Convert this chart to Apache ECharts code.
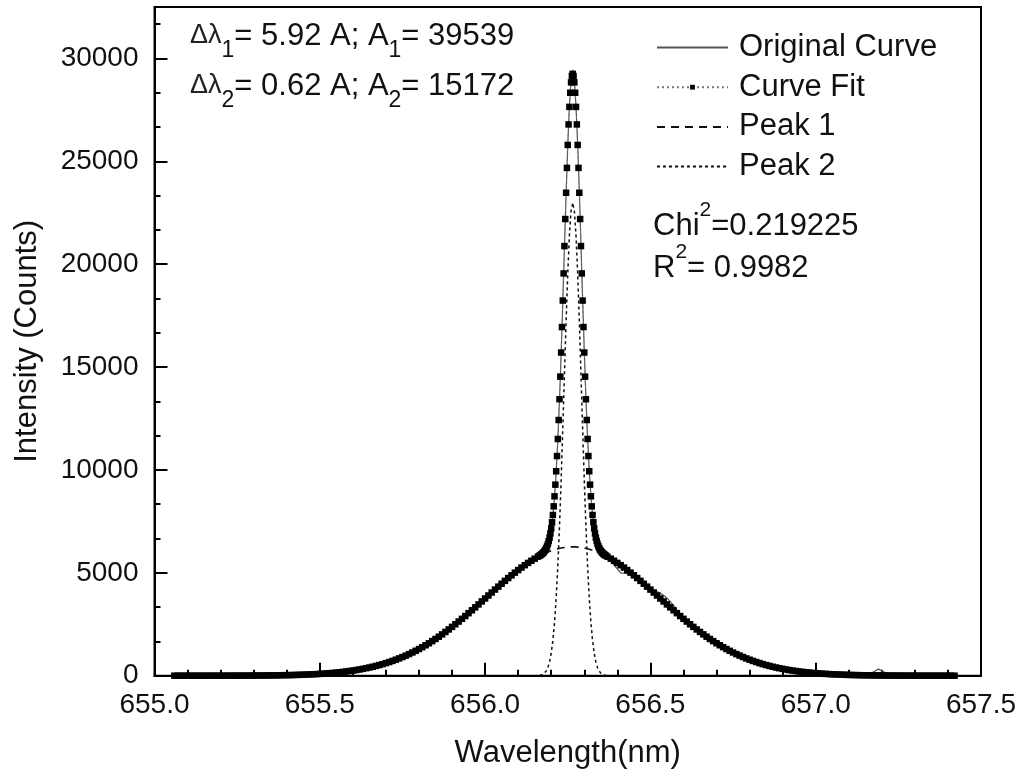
<!DOCTYPE html>
<html><head><meta charset="utf-8">
<script src="https://cdn.jsdelivr.net/npm/echarts@6/dist/echarts.min.js"></script>
<style>html,body{margin:0;padding:0;background:#fff}#c{width:1026px;height:776px}</style>
</head><body><div id="c"></div>
<script>
// ---------- DATA ----------
const xTickLabels = ['655.0','655.5','656.0','656.5','657.0','657.5'];
const yTickLabels = ['0','5000','10000','15000','20000','25000','30000'];

// Curve Fit (dense sampling -> square markers)
const fitWavelength = [
655.06,655.07,655.08,655.09,655.10,655.11,655.12,655.13,655.14,655.15,
655.16,655.17,655.18,655.19,655.20,655.21,655.22,655.23,655.24,655.25,
655.26,655.27,655.28,655.29,655.30,655.31,655.32,655.33,655.34,655.35,
655.36,655.37,655.38,655.39,655.40,655.41,655.42,655.43,655.44,655.45,
655.46,655.47,655.48,655.49,655.50,655.51,655.52,655.53,655.54,655.55,
655.56,655.57,655.58,655.59,655.60,655.61,655.62,655.63,655.64,655.65,
655.66,655.67,655.68,655.69,655.70,655.71,655.72,655.73,655.74,655.75,
655.76,655.77,655.78,655.79,655.80,655.81,655.82,655.83,655.84,655.85,
655.86,655.87,655.88,655.89,655.90,655.91,655.92,655.93,655.94,655.95,
655.96,655.97,655.98,655.99,656.00,656.01,656.02,656.03,656.04,656.05,
656.06,656.07,656.08,656.09,656.10,656.11,656.12,656.13,656.14,656.15,656.16,
656.165,656.1675,656.17,656.1725,656.175,656.1775,656.18,656.1825,656.185,656.1875,
656.19,656.1925,656.195,656.1975,656.2,656.2025,656.205,656.2075,656.21,656.2125,
656.215,656.2175,656.22,656.2225,656.225,656.2275,656.23,656.2325,656.235,656.2375,
656.24,656.2425,656.245,656.2475,656.25,656.2525,656.255,656.2575,656.26,656.2625,
656.265,656.2675,656.27,656.2725,656.275,656.2775,656.28,656.2825,656.285,656.2875,
656.29,656.2925,656.295,656.2975,656.3,656.3025,656.305,656.3075,656.31,656.3125,
656.315,656.3175,656.32,656.3225,656.325,656.3275,656.33,656.3325,656.335,656.3375,
656.34,656.3425,656.345,656.3475,656.35,656.3525,656.355,656.3575,656.36,656.3625,656.365,
656.37,656.38,656.39,656.40,656.41,656.42,656.43,656.44,656.45,656.46,
656.47,656.48,656.49,656.50,656.51,656.52,656.53,656.54,656.55,656.56,
656.57,656.58,656.59,656.60,656.61,656.62,656.63,656.64,656.65,656.66,
656.67,656.68,656.69,656.70,656.71,656.72,656.73,656.74,656.75,656.76,
656.77,656.78,656.79,656.80,656.81,656.82,656.83,656.84,656.85,656.86,
656.87,656.88,656.89,656.90,656.91,656.92,656.93,656.94,656.95,656.96,
656.97,656.98,656.99,657.00,657.01,657.02,657.03,657.04,657.05,657.06,
657.07,657.08,657.09,657.10,657.11,657.12,657.13,657.14,657.15,657.16,
657.17,657.18,657.19,657.20,657.21,657.22,657.23,657.24,657.25,657.26,
657.27,657.28,657.29,657.30,657.31,657.32,657.33,657.34,657.35,657.36,
657.37,657.38,657.39,657.40,657.41,657.42];
const fitIntensity = [
0,0,0,0,0,0,0,0,0,0,
1,1,1,1,1,2,2,2,3,3,
4,5,5,6,7,8,9,11,12,14,
16,18,21,24,27,30,34,39,44,50,
56,63,70,79,88,98,110,122,136,151,
168,186,205,227,250,275,302,332,364,398,
435,475,518,563,612,664,719,778,841,907,
977,1051,1128,1210,1296,1386,1480,1577,1680,1785,
1895,2009,2127,2248,2372,2500,2631,2764,2900,3039,
3179,3321,3464,3609,3753,3898,4043,4187,4329,4470,
4609,4746,4879,5008,5134,5255,5371,5482,5587,5687,5785,
5837,5865,5896,5930,5968,6012,6064,6127,6203,6294,
6407,6544,6711,6916,7162,7458,7811,8230,8718,9285,
9936,10675,11505,12427,13438,14534,15707,16945,18232,19551,
20880,22195,23471,24680,25796,26793,27645,28333,28838,29147,
29250,29147,28838,28333,27645,26793,25796,24680,23471,22195,
20880,19551,18232,16945,15707,14534,13438,12427,11505,10675,
9936,9285,8718,8230,7811,7458,7162,6916,6711,6544,
6407,6294,6203,6127,6064,6012,5968,5930,5896,5865,5837,
5785,5687,5587,5482,5371,5255,5134,5008,4879,4746,
4609,4470,4329,4187,4043,3898,3753,3609,3464,3321,
3179,3039,2900,2764,2631,2500,2372,2248,2127,2009,
1895,1785,1680,1577,1480,1386,1296,1210,1128,1051,
977,907,841,778,719,664,612,563,518,475,
435,398,364,332,302,275,250,227,205,186,
168,151,136,122,110,98,88,79,70,63,
56,50,44,39,34,30,27,24,21,18,
16,14,12,11,9,8,7,6,5,5,
4,3,3,2,2,2,1,1,1,1,
1,0,0,0,0,0];

// Original curve, Peak 1 (coarser sampling)
const coarseWavelength = [
655.06,655.08,655.10,655.12,655.14,655.16,655.18,655.20,655.22,655.24,
655.26,655.28,655.30,655.32,655.34,655.36,655.38,655.40,655.42,655.44,
655.46,655.48,655.50,655.52,655.54,655.56,655.58,655.60,655.62,655.64,
655.66,655.68,655.70,655.72,655.74,655.76,655.78,655.80,655.82,655.84,
655.86,655.88,655.90,655.92,655.94,655.96,655.98,656.00,656.02,656.04,
656.06,656.08,656.10,656.12,656.14,656.16,
656.165,656.17,656.175,656.18,656.185,656.19,656.195,656.2,656.205,656.21,
656.215,656.22,656.225,656.23,656.235,656.24,656.245,656.25,656.255,656.26,
656.265,656.27,656.275,656.28,656.285,656.29,656.295,656.3,656.305,656.31,
656.315,656.32,656.325,656.33,656.335,656.34,656.345,656.35,656.355,656.36,656.365,
656.37,656.39,656.41,656.43,656.45,656.47,656.49,656.51,656.53,656.55,
656.57,656.59,656.61,656.63,656.65,656.67,656.69,656.71,656.73,656.75,
656.77,656.79,656.81,656.83,656.85,656.87,656.89,656.91,656.93,656.95,
656.97,656.99,657.01,657.03,657.05,657.07,657.09,657.11,657.13,657.15,
657.17,657.19,657.21,657.23,657.25,657.27,657.29,657.31,657.33,657.35,
657.37,657.39,657.41];
const originalIntensity = [
0,2,0,1,0,3,0,2,4,1,
6,4,9,7,15,14,24,25,38,42,
60,68,95,106,140,162,210,246,310,372,
430,525,605,722,850,985,1120,1290,1470,1600,
1770,2010,2360,2645,2905,3170,3475,3760,4035,4340,
4600,4830,5090,5380,5595,5790,
5850,5920,6010,6120,6250,6420,6700,7120,7760,8650,
9900,11450,13400,15650,18150,20800,23400,25750,27700,28950,
29450,28900,27650,25850,23550,20950,18300,15800,13500,11550,
9980,8760,7850,7190,6720,6400,6190,6040,5950,5880,5820,
5780,5380,5000,4960,4870,4615,4320,4150,4020,3780,
3420,2930,2625,2380,2120,1890,1690,1475,1300,1120,
980,835,722,608,520,430,368,298,252,200,
170,132,112,85,72,52,46,30,28,40,
140,320,150,20,8,5,2,4,1,3,
0,2,0];
const peak1Intensity = [
0,0,0,0,0,1,1,1,2,3,
4,5,7,9,12,16,21,27,34,44,
56,70,88,110,136,168,205,250,302,364,
435,518,612,719,841,977,1128,1296,1480,1680,
1895,2127,2372,2631,2900,3179,3464,3753,4043,4329,
4609,4879,5134,5371,5587,5777,
5820,5862,5901,5939,5975,6009,6040,6070,6098,6124,
6147,6168,6187,6204,6219,6232,6242,6250,6255,6259,
6260,6259,6255,6250,6242,6232,6219,6204,6187,6168,
6147,6124,6098,6070,6040,6009,5975,5939,5901,5862,5820,
5777,5587,5371,5134,4879,4609,4329,4043,3753,3464,
3179,2900,2631,2372,2127,1895,1680,1480,1296,1128,
977,841,719,612,518,435,364,302,250,205,
168,136,110,88,70,56,44,34,27,21,
16,12,9,7,5,4,3,2,2,1,
1,1,0];

// Peak 2 (narrow component)
const peak2Wavelength = [
656.165,656.17,656.175,656.18,656.185,656.19,656.195,656.2,656.205,656.21,
656.215,656.22,656.225,656.23,656.235,656.24,656.245,656.25,656.255,656.26,
656.265,656.27,656.275,656.28,656.285,656.29,656.295,656.3,656.305,656.31,
656.315,656.32,656.325,656.33,656.335,656.34,656.345,656.35,656.355,656.36,656.365];
const peak2Intensity = [
17,34,67,125,228,398,671,1092,1713,2594,
3789,5337,7251,9503,12013,14648,17229,19546,21390,22579,
22990,22579,21390,19546,17229,14648,12013,9503,7251,5337,
3789,2594,1713,1092,671,398,228,125,67,34,17];

const seriesNames = ['Original Curve','Curve Fit','Peak 1','Peak 2'];

// ---------- CHART ----------
const FONT = '"Liberation Sans", Arial, sans-serif';
const pairs = (xs, ys) => xs.map((x, i) => [x, ys[i]]);

const subRich = {
  t: {fontSize: 31, fontFamily: FONT, fill: '#111', lineHeight: 52, verticalAlign: 'middle'},
  d: {fontSize: 27, fontFamily: FONT, fill: '#222', lineHeight: 52, verticalAlign: 'middle'},
  s: {fontSize: 23, fontFamily: FONT, fill: '#111', lineHeight: 23, verticalAlign: 'bottom'},
  p: {fontSize: 21, fontFamily: FONT, fill: '#111', lineHeight: 26, verticalAlign: 'top'}
};

const chart = echarts.init(document.getElementById('c'), null, {renderer: 'canvas'});
chart.setOption({
  animation: false,
  backgroundColor: '#fff',
  grid: {left: 154.5, right: 45, top: 7, bottom: 100.3, show: true, borderColor: '#000', borderWidth: 2,
         backgroundColor: 'transparent', outerBoundsMode: 'none', containLabel: false},
  legend: {
    orient: 'vertical', left: 651, top: 27, itemWidth: 71, itemHeight: 6, itemGap: 8.7,
    textStyle: {fontSize: 31, fontFamily: FONT, color: '#111', lineHeight: 31, padding: [0, 0, 0, 6]},
    data: [
      {name: seriesNames[0], itemStyle: {opacity: 0}},
      {name: seriesNames[1]},
      {name: seriesNames[2], itemStyle: {opacity: 0}},
      {name: seriesNames[3], itemStyle: {opacity: 0}}
    ],
    selectedMode: false
  },
  xAxis: {
    type: 'value', min: 655, max: 657.5, interval: 0.5,
    name: 'Wavelength(nm)', nameLocation: 'middle', nameGap: 62,
    nameTextStyle: {fontSize: 31, fontFamily: FONT, color: '#111'},
    axisLine: {lineStyle: {color: '#000', width: 2}},
    axisTick: {inside: true, length: 13, lineStyle: {color: '#000', width: 2}},
    minorTick: {show: true, splitNumber: 5, length: 6, lineStyle: {color: '#000', width: 2}},
    splitLine: {show: false}, minorSplitLine: {show: false},
    axisLabel: {fontSize: 28, fontFamily: FONT, color: '#111', margin: 16,
      formatter: v => xTickLabels[Math.round((v - 655) / 0.5)] || ''}
  },
  yAxis: [{
    type: 'value', min: 0, max: 32500, interval: 5000,
    name: 'Intensity (Counts)', nameLocation: 'middle', nameGap: 112, nameRotate: 90,
    nameTextStyle: {fontSize: 31, fontFamily: FONT, color: '#111'},
    axisLine: {show: true, lineStyle: {color: '#000', width: 2}},
    axisTick: {show: true, inside: true, length: 13, lineStyle: {color: '#000', width: 2}},
    splitLine: {show: false},
    axisLabel: {fontSize: 28, fontFamily: FONT, color: '#111', margin: 16, showMaxLabel: false,
      formatter: v => (v % 5000 === 0 ? (yTickLabels[v / 5000] || '') : '')}
  }, {
    type: 'value', min: 0, max: 32500, interval: 5000 / 3, position: 'left', offset: 0,
    axisLine: {show: false},
    axisTick: {show: true, inside: true, length: 6, lineStyle: {color: '#000', width: 2}},
    axisLabel: {show: false}, splitLine: {show: false}
  }],
  series: [
    {name: seriesNames[0], type: 'line', data: pairs(coarseWavelength, originalIntensity), yAxisIndex: 0,
     symbol: 'none', lineStyle: {color: '#555', width: 1.2}, itemStyle: {color: '#555'}, z: 2},
    {name: seriesNames[2], type: 'line', data: pairs(coarseWavelength, peak1Intensity), yAxisIndex: 0,
     symbol: 'none', lineStyle: {color: '#111', width: 1.6, type: [8, 6]}, itemStyle: {color: '#111'}, z: 3},
    {name: seriesNames[3], type: 'line', data: pairs(peak2Wavelength, peak2Intensity), yAxisIndex: 0,
     symbol: 'none', lineStyle: {color: '#111', width: 1.5, type: [3, 3]}, itemStyle: {color: '#111'}, z: 3},
    {name: seriesNames[1], type: 'line', data: pairs(fitWavelength, fitIntensity), yAxisIndex: 0,
     symbol: 'rect', symbolSize: 6.5, showSymbol: true,
     itemStyle: {color: '#000'}, lineStyle: {color: '#777', width: 1, type: [2, 3]}, z: 4}
  ],
  graphic: [
    {type: 'text', x: 190, y: 36, z: 10,
     style: {text: '{d|Δλ}{s|1}{t|= 5.92 A; A}{s|1}{t|= 39539}', rich: subRich, verticalAlign: 'middle'}},
    {type: 'text', x: 190, y: 86, z: 10,
     style: {text: '{d|Δλ}{s|2}{t|= 0.62 A; A}{s|2}{t|= 15172}', rich: subRich, verticalAlign: 'middle'}},
    {type: 'text', x: 653, y: 226, z: 10,
     style: {text: '{t|Chi}{p|2}{t|=0.219225}', rich: subRich, verticalAlign: 'middle'}},
    {type: 'text', x: 653, y: 268, z: 10,
     style: {text: '{t|R}{p|2}{t|= 0.9982}', rich: subRich, verticalAlign: 'middle'}}
  ]
});
</script>
</body></html>
